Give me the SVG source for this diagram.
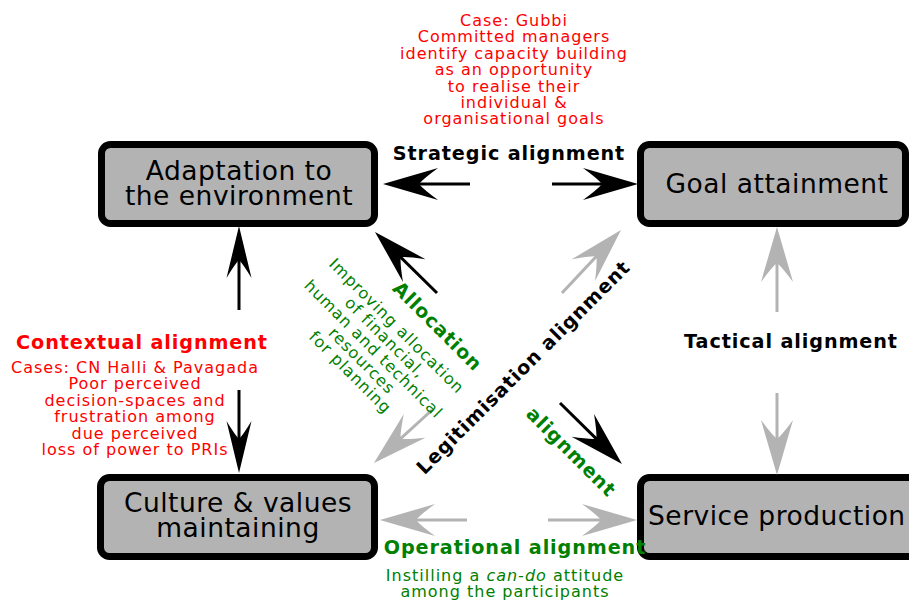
<svg xmlns="http://www.w3.org/2000/svg" width="909" height="602" viewBox="0 0 909 602">
<style>
.box{fill:#b3b3b3;stroke:#000;stroke-width:7}
.bt{font-family:"DejaVu Sans","Liberation Sans",sans-serif;font-size:26.5px;letter-spacing:0.5px;fill:#000}
.lbl{font-family:"DejaVu Sans","Liberation Sans",sans-serif;font-weight:bold;font-size:19.2px;letter-spacing:0.9px}
.note{font-family:"DejaVu Sans","Liberation Sans",sans-serif;font-size:16px;letter-spacing:1px}
.mid{text-anchor:middle}
.red{fill:#ff0000}
.grn{fill:#008000}
.blk{fill:#000}
.ln{fill:none;stroke-width:3}
.lb{stroke:#000}
.lg{stroke:#b3b3b3}
</style>
<defs>
<marker id="hb" markerUnits="userSpaceOnUse" orient="auto" refX="-32" refY="0" markerWidth="60" markerHeight="40" overflow="visible">
<path d="M0,0 L-55,-16 Q-40,-5 -36,0 Q-40,5 -55,16 Z" fill="#000"/>
</marker>
<marker id="hg" markerUnits="userSpaceOnUse" orient="auto" refX="-32" refY="0" markerWidth="60" markerHeight="40" overflow="visible">
<path d="M0,0 L-55,-16 Q-40,-5 -36,0 Q-40,5 -55,16 Z" fill="#b3b3b3"/>
</marker>
<marker id="hn" markerUnits="userSpaceOnUse" orient="auto" refX="-30" refY="0" markerWidth="60" markerHeight="40" overflow="visible">
<path d="M0,0 L-52,-12.5 Q-38,-4 -34,0 Q-38,4 -52,12.5 Z" fill="#000"/>
</marker>
</defs>

<g id="node-adaptation">
<rect class="box" x="101.5" y="144.5" width="273" height="79" rx="9"/>
<text class="bt mid" x="239" y="180">Adaptation to</text>
<text class="bt mid" x="239" y="205">the environment</text>
</g>
<g id="node-goal">
<rect class="box" x="640.5" y="144.5" width="265" height="79" rx="9"/>
<text class="bt mid" x="777" y="193">Goal attainment</text>
</g>
<g id="node-culture">
<rect class="box" x="100.5" y="477.5" width="274" height="79" rx="9"/>
<text class="bt mid" x="238" y="512">Culture &amp; values</text>
<text class="bt mid" x="238" y="537">maintaining</text>
</g>
<g id="node-service">
<rect class="box" x="640.5" y="477.5" width="290" height="79" rx="9"/>
<text class="bt" x="648" y="525">Service production</text>
</g>

<g id="connectors">
<line class="ln lb" x1="470" y1="184" x2="415" y2="184" marker-end="url(#hb)"/>
<line class="ln lb" x1="552" y1="184" x2="606" y2="184" marker-end="url(#hb)"/>
<line class="ln lb" x1="239" y1="310" x2="239" y2="256" marker-end="url(#hn)"/>
<line class="ln lb" x1="239" y1="390" x2="239" y2="443" marker-end="url(#hn)"/>
<line class="ln lb" x1="437" y1="293" x2="397.8" y2="254.4" marker-end="url(#hb)"/>
<line class="ln lg" x1="432" y1="410" x2="397.6" y2="441.4" marker-end="url(#hg)"/>
<line class="ln lg" x1="562" y1="293" x2="599.1" y2="253.4" marker-end="url(#hg)"/>
<line class="ln lb" x1="560" y1="403" x2="599.2" y2="441.6" marker-end="url(#hb)"/>
<line class="ln lg" x1="777" y1="312" x2="777" y2="259" marker-end="url(#hg)"/>
<line class="ln lg" x1="777" y1="393" x2="777" y2="443" marker-end="url(#hg)"/>
<line class="ln lg" x1="467" y1="520" x2="412" y2="520" marker-end="url(#hg)"/>
<line class="ln lg" x1="548" y1="520" x2="605" y2="520" marker-end="url(#hg)"/>
</g>

<g id="labels">
<text class="note red mid" x="514" y="26">Case: Gubbi</text>
<text class="note red mid" x="514" y="42.4">Committed managers</text>
<text class="note red mid" x="514" y="58.8">identify capacity building</text>
<text class="note red mid" x="514" y="75.2">as an opportunity</text>
<text class="note red mid" x="514" y="91.6">to realise their</text>
<text class="note red mid" x="514" y="108">individual &amp;</text>
<text class="note red mid" x="514" y="124.4">organisational goals</text>

<text class="lbl blk mid" x="509" y="160">Strategic alignment</text>
<text class="lbl red mid" x="142" y="349">Contextual alignment</text>
<text class="lbl blk mid" x="791" y="348">Tactical alignment</text>
<text class="lbl grn mid" x="515" y="554">Operational alignment</text>

<text class="note red mid" x="135" y="373">Cases: CN Halli &amp; Pavagada</text>
<text class="note red mid" x="135" y="389.4">Poor perceived</text>
<text class="note red mid" x="135" y="405.8">decision-spaces and</text>
<text class="note red mid" x="135" y="422.2">frustration among</text>
<text class="note red mid" x="135" y="438.6">due perceived</text>
<text class="note red mid" x="135" y="455">loss of power to PRIs</text>

<text class="note grn mid" x="505" y="581">Instilling a <tspan font-style="italic">can-do</tspan> attitude</text>
<text class="note grn mid" x="505" y="597">among the participants</text>

<text class="lbl grn mid" transform="translate(433,331) rotate(45)">Allocation</text>
<g transform="translate(361.3,361.3) rotate(45)">
<text class="note grn mid" x="0" y="-44.6">Improving allocation</text>
<text class="note grn mid" x="0" y="-28.2">of financial,</text>
<text class="note grn mid" x="0" y="-11.8">human and technical</text>
<text class="note grn mid" x="0" y="4.6">resources</text>
<text class="note grn mid" x="0" y="21">for planning</text>
</g>
<text class="lbl blk mid" transform="translate(528,372) rotate(-45)">Legitimisation alignment</text>
<text class="lbl grn mid" transform="translate(566.5,456.5) rotate(45)">alignment</text>
</g>
</svg>
